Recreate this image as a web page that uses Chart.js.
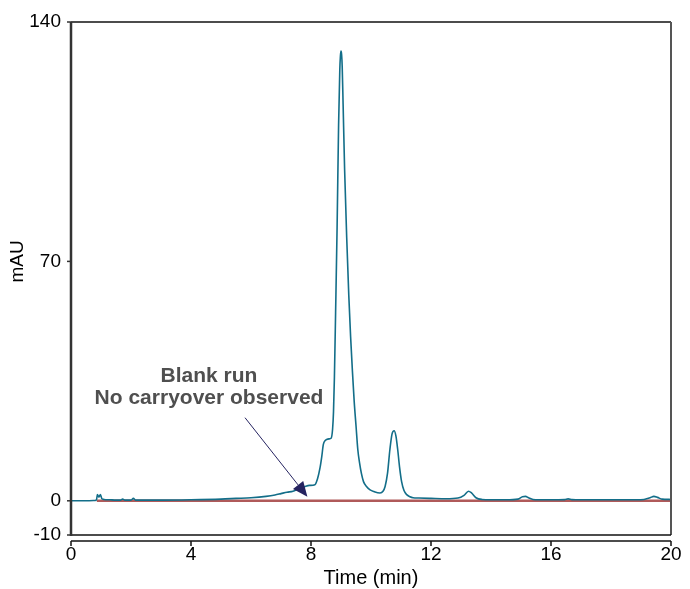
<!DOCTYPE html>
<html lang="en">
  <head>
    <meta charset="UTF-8" />
    <title>Chromatogram</title>
    <script src="https://cdn.jsdelivr.net/npm/chart.js@4.4.1/dist/chart.umd.min.js"></script>
    <style>
      html, body { margin: 0; padding: 0; background: #fff; }
      #wrap { width: 690px; height: 589px; }
    </style>
  </head>
  <body>
    <div id="wrap"><canvas id="chart" width="690" height="589"></canvas></div>
    <script>
      // sample run (min, mAU)
      const sampleTime = [
        0, 0.5, 0.8, 0.85, 0.88, 0.93, 0.98, 1.03, 1.1, 1.3, 1.5, 1.65, 1.72, 1.8,
        2.0, 2.08, 2.15, 2.4, 3.0, 4.0, 5.0, 5.5, 6.0, 6.5, 6.8, 7.0, 7.2, 7.4,
        7.6, 7.8, 7.95, 8.13, 8.22, 8.3, 8.36, 8.41, 8.47, 8.52, 8.6, 8.67, 8.72,
        8.75, 8.78, 8.82, 8.87, 8.92, 8.96, 8.98, 9.0, 9.02, 9.04, 9.07, 9.12, 9.19,
        9.26, 9.32, 9.38, 9.44, 9.5, 9.56, 9.62, 9.68, 9.75, 9.85, 9.97, 10.1,
        10.3, 10.4, 10.47, 10.55, 10.63, 10.7, 10.77, 10.83, 10.89, 10.95, 11.02,
        11.1, 11.19, 11.3, 11.4, 11.6, 12.0, 12.5, 12.9, 13.1, 13.25, 13.35, 13.5,
        13.7, 14.0, 14.5, 14.9, 15.05, 15.15, 15.25, 15.4, 15.6, 16.0, 16.45,
        16.57, 16.7, 17.0, 17.5, 18.0, 18.5, 19.1, 19.3, 19.43, 19.55, 19.7, 20.0
      ];
      const sampleAbs = [
        0, 0, 0.1, 0.3, 1.8, 1.1, 1.8, 0.6, 0.4, 0.3, 0.2, 0.2, 0.5, 0.2,
        0.2, 0.7, 0.2, 0.2, 0.2, 0.3, 0.5, 0.7, 0.9, 1.3, 1.7, 2.1, 2.5, 2.8,
        3.6, 4.2, 4.5, 4.7, 6.5, 9.6, 13, 16.4, 17.6, 17.9, 18.1, 18.3, 21,
        26, 36, 55, 80, 110, 126, 130, 131.5, 130.5, 127, 116, 97, 77,
        60, 48, 38, 29, 22, 15, 11, 8, 5.6, 4.2, 3.2, 2.7,
        2.3, 2.8, 4.2, 8, 15, 19.5, 20.5, 19, 15, 10, 5.6,
        3, 1.8, 1.2, 0.9, 0.8, 0.7, 0.6, 0.8, 1.6, 2.8, 2.3, 0.9,
        0.4, 0.3, 0.3, 0.5, 1.2, 1.3, 0.9, 0.4, 0.3, 0.3, 0.35,
        0.55, 0.35, 0.3, 0.3, 0.3, 0.3, 0.4, 0.9, 1.3, 1.0, 0.5, 0.4
      ];

      // blank run
      const blankTime = [0.86, 20];
      const blankAbs = [0, 0];

      const xTicks = [0, 4, 8, 12, 16, 20];
      const yTicks = [-10, 0, 70, 140];

      const labelLines = ["Blank run", "No carryover observed"];
      const yTitle = "mAU";

      const colors = {
        sample: "#136e89",
        blank: "#b05a5a",
        arrow: "#252360",
        label: "#4f4f4f",
      };

      const font = "'Liberation Sans', Arial, Helvetica, sans-serif";

      const toPoints = (xs, ys) => xs.map((x, i) => ({ x: x, y: ys[i] }));

      // box around the plot, offset time axis and the annotation
      const frame = {
        id: "frame",
        afterDraw(chart) {
          const { ctx, chartArea: a, scales } = chart;
          const x = scales.x;
          const y = scales.y;
          ctx.save();

          ctx.strokeStyle = "#111";
          ctx.lineWidth = 1.5;
          ctx.beginPath();
          ctx.moveTo(a.left, a.top);
          ctx.lineTo(a.right, a.top);
          ctx.stroke();

          ctx.strokeStyle = "#555";
          ctx.lineWidth = 2;
          ctx.beginPath();
          ctx.moveTo(a.right, a.top);
          ctx.lineTo(a.right, a.bottom);
          ctx.stroke();

          ctx.strokeStyle = "#111";
          ctx.lineWidth = 1.5;
          ctx.beginPath();
          ctx.moveTo(a.left, a.bottom);
          ctx.lineTo(a.right, a.bottom);
          ctx.stroke();

          ctx.strokeStyle = "#333";
          ctx.lineWidth = 2.5;
          ctx.beginPath();
          ctx.moveTo(a.left, a.top);
          ctx.lineTo(a.left, a.bottom + 1);
          ctx.stroke();

          // y ticks
          ctx.lineWidth = 1.5;
          yTicks.forEach((v) => {
            const py = y.getPixelForValue(v);
            ctx.beginPath();
            ctx.moveTo(a.left - 4, py);
            ctx.lineTo(a.left, py);
            ctx.stroke();
          });

          // time axis drawn a little below the box
          const yb = a.bottom + 6;
          ctx.strokeStyle = "#111";
          ctx.lineWidth = 1.5;
          ctx.beginPath();
          ctx.moveTo(a.left, yb);
          ctx.lineTo(a.right, yb);
          ctx.stroke();
          xTicks.forEach((v) => {
            const px = x.getPixelForValue(v);
            ctx.beginPath();
            ctx.moveTo(px, yb);
            ctx.lineTo(px, yb + 5);
            ctx.stroke();
          });

          // y title, level with the 70 tick
          ctx.save();
          ctx.translate(18, y.getPixelForValue(70));
          ctx.rotate(-Math.PI / 2);
          ctx.fillStyle = "#000";
          ctx.font = "19px " + font;
          ctx.textAlign = "center";
          ctx.textBaseline = "middle";
          ctx.fillText(yTitle, 0, 0);
          ctx.restore();

          // arrow
          const x0 = x.getPixelForValue(5.8);
          const y0 = y.getPixelForValue(24.3);
          const x1 = x.getPixelForValue(7.88);
          const y1 = y.getPixelForValue(1.2);
          const ang = Math.atan2(y1 - y0, x1 - x0);
          const head = 15;
          const half = 6.5;
          const bx = x1 - head * Math.cos(ang);
          const by = y1 - head * Math.sin(ang);
          ctx.strokeStyle = colors.arrow;
          ctx.fillStyle = colors.arrow;
          ctx.lineWidth = 1;
          ctx.beginPath();
          ctx.moveTo(x0, y0);
          ctx.lineTo(bx, by);
          ctx.stroke();
          ctx.beginPath();
          ctx.moveTo(x1, y1);
          ctx.lineTo(bx + half * Math.sin(ang), by - half * Math.cos(ang));
          ctx.lineTo(bx - half * Math.sin(ang), by + half * Math.cos(ang));
          ctx.closePath();
          ctx.fill();

          // label
          ctx.fillStyle = colors.label;
          ctx.font = "bold 21px " + font;
          ctx.textAlign = "center";
          ctx.textBaseline = "middle";
          const tx = x.getPixelForValue(4.6);
          ctx.fillText(labelLines[0], tx, y.getPixelForValue(36.5));
          ctx.fillText(labelLines[1], tx, y.getPixelForValue(30.1));

          ctx.restore();
        },
      };

      const ctx = document.getElementById("chart").getContext("2d");

      new Chart(ctx, {
        type: "line",
        data: {
          datasets: [
            {
              label: "Sample",
              data: toPoints(sampleTime, sampleAbs),
              borderColor: colors.sample,
              borderWidth: 1.6,
              pointRadius: 0,
              cubicInterpolationMode: "monotone",
              fill: false,
            },
            {
              label: "Blank",
              data: toPoints(blankTime, blankAbs),
              borderColor: colors.blank,
              borderWidth: 2.5,
              pointRadius: 0,
              fill: false,
            },
          ],
        },
        options: {
          responsive: false,
          animation: false,
          layout: { padding: { left: 0, top: 22, right: 19, bottom: 0 } },
          plugins: {
            legend: { display: false },
            tooltip: { enabled: false },
          },
          scales: {
            x: {
              type: "linear",
              min: 0,
              max: 20,
              afterBuildTicks: (s) => {
                s.ticks = xTicks.map((v) => ({ value: v }));
              },
              afterFit: (s) => {
                s.height = 54;
              },
              grid: { display: false, drawTicks: false },
              border: { display: false },
              ticks: {
                padding: 8,
                color: "#000",
                font: { family: font, size: 19 },
                maxRotation: 0,
              },
              title: {
                display: true,
                text: "Time (min)",
                color: "#000",
                font: { family: font, size: 20 },
                padding: { top: 0, bottom: -1 },
              },
            },
            y: {
              type: "linear",
              min: -10,
              max: 140,
              afterBuildTicks: (s) => {
                s.ticks = yTicks.map((v) => ({ value: v }));
              },
              afterFit: (s) => {
                s.width = 71;
              },
              grid: { display: false, drawTicks: false },
              border: { display: false },
              ticks: {
                padding: 10,
                color: "#000",
                font: { family: font, size: 19 },
              },
              title: { display: false },
            },
          },
        },
        plugins: [frame],
      });
    </script>
  </body>
</html>
